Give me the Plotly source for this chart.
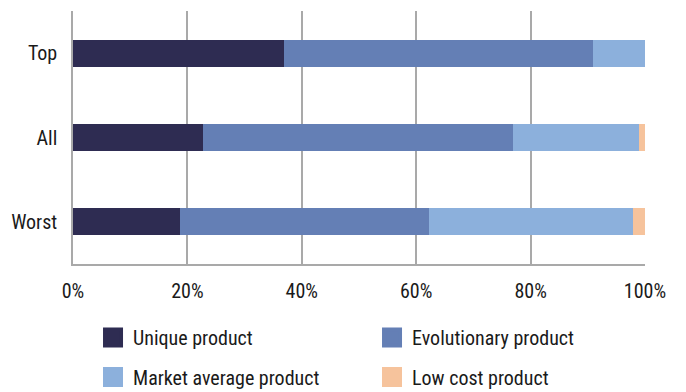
import plotly.graph_objects as go

# Product mix by performer group (share of products, %)
groups = ["Top", "All", "Worst"]
unique_product = [36.8, 22.8, 18.7]
evolutionary_product = [54.1, 54.1, 43.5]
market_average_product = [9.1, 22.1, 35.7]
low_cost_product = [0.0, 1.0, 2.1]

series = [
    ("Unique product", unique_product, "#2e2c52", "legend"),
    ("Evolutionary product", evolutionary_product, "#647fb5", "legend"),
    ("Market average product", market_average_product, "#8cb0dc", "legend2"),
    ("Low cost product", low_cost_product, "#f6c39c", "legend2"),
]

tick_vals = [0, 20, 40, 60, 80, 100]
tick_text = ["0%", "20%", "40%", "60%", "80%", "100%"]

FONT = "Liberation Sans Narrow, Arial Narrow, Roboto Condensed, sans-serif"
GRID = "#a9a9a9"

fig = go.Figure()
for name, vals, color, leg in series:
    fig.add_trace(go.Bar(
        y=groups, x=vals, name=name, orientation="h",
        marker=dict(color=color, line=dict(width=0)),
        showlegend=False,
    ))
    # legend swatch with a larger square symbol
    fig.add_trace(go.Scatter(
        x=[None], y=[None], mode="markers", name=name,
        marker=dict(symbol="square", size=16, color=color,
                    line=dict(color=color, width=4)),
        legend=leg,
    ))

legend_common = dict(
    orientation="h", xanchor="left", yanchor="middle", traceorder="normal",
    entrywidth=234, entrywidthmode="pixels",
    font=dict(family=FONT, size=20, color="#1a1a1a"),
    bgcolor="rgba(0,0,0,0)", borderwidth=0,
    itemclick=False, itemdoubleclick=False,
)

fig.update_layout(
    width=686, height=392,
    margin=dict(l=73, r=41, t=11, b=128, autoexpand=False),
    paper_bgcolor="white", plot_bgcolor="white",
    barmode="stack", bargap=0.68,
    font=dict(family=FONT, size=20, color="#1a1a1a"),
    xaxis=dict(
        range=[0, 100], tickvals=tick_vals, ticktext=tick_text,
        showgrid=True, gridcolor=GRID, gridwidth=1.5,
        showline=True, linecolor=GRID, linewidth=1.5, mirror=False,
        ticks="", ticklabelstandoff=8, zeroline=False, fixedrange=True,
    ),
    yaxis=dict(
        categoryorder="array", categoryarray=groups[::-1],
        showgrid=False, showline=True, linecolor=GRID, linewidth=1.5,
        ticks="", ticklabelstandoff=10, fixedrange=True,
    ),
    legend=dict(x=0.035, y=-0.2905, **legend_common),
    legend2=dict(x=0.035, y=-0.4466, **legend_common),
)

fig.write_html("out.html")
